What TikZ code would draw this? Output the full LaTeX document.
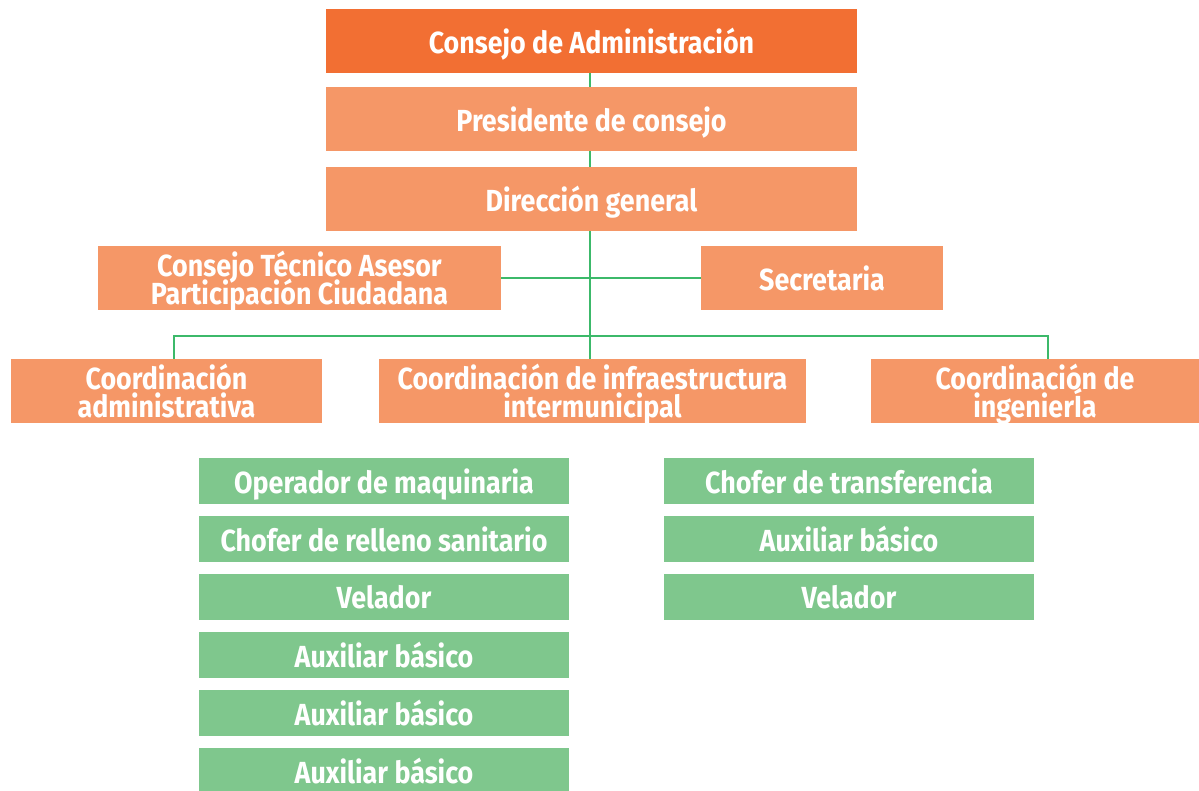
\documentclass[tikz,border=0pt]{standalone}
\usepackage{fontspec}
\setmainfont{Fira Sans}[FakeStretch=0.88]
\usetikzlibrary{backgrounds}
\definecolor{darkor}{HTML}{F26F33}
\definecolor{lightor}{HTML}{F59767}
\definecolor{boxgreen}{HTML}{7FC78D}
\definecolor{linegreen}{HTML}{3CB96A}
\newcommand{\orgboxfont}{\bfseries\fontsize{30.5}{28}\selectfont\lineskiplimit=-30pt\relax\lineskip=0pt\relax}
\tikzset{
  box/.style={fill=lightor, draw=none, text=white, inner sep=0pt, align=center,
    font=\orgboxfont, text depth=0pt, minimum height=64pt},
  topbox/.style={box, fill=darkor},
  gbox/.style={box, fill=boxgreen, minimum height=46pt, minimum width=370pt},
  conn/.style={draw=linegreen, line width=2.6pt}
}
\begin{document}
\begin{tikzpicture}[x=1pt,y=-1pt]
\useasboundingbox (0,0) rectangle (1199,791);
\node[topbox, minimum width=531pt] (top) at (591.5,41) {Consejo de Administración};
\node[box, minimum width=531pt] (pres) at (591.5,119) {Presidente de consejo};
\node[box, minimum width=531pt] (dir) at (591.5,199) {Dirección general};
\node[box, minimum width=403pt] (cta) at (299.5,278) {Consejo Técnico Asesor\\Participación Ciudadana};
\node[box, minimum width=242pt] (sec) at (822,278) {Secretaria};
\node[box, minimum width=311pt] (adm) at (166.5,391) {Coordinación\\administrativa};
\node[box, minimum width=427pt] (inf) at (592.5,391) {Coordinación de infraestructura\\intermunicipal};
\node[box, minimum width=328pt] (ing) at (1035,391) {Coordinación de\\ingenierÍa};
\coordinate (bus) at (590,336);
\begin{scope}[on background layer]
\draw[conn] (top.south -| bus) -- (inf.north -| bus);
\draw[conn] (cta.east) -- (sec.west);
\draw[conn] ([xshift=7.5pt]adm.north) |- (bus) -| ([xshift=13pt]ing.north);
\end{scope}
% green boxes
\node[gbox] (g1) at (384,481) {Operador de maquinaria};
\node[gbox] (g2) at (384,539) {Chofer de relleno sanitario};
\node[gbox] (g3) at (384,597) {Velador};
\node[gbox] (g4) at (384,655) {Auxiliar básico};
\node[gbox] (g5) at (384,713) {Auxiliar básico};
\node[gbox] (g6) at (384,771) {Auxiliar básico};
\node[gbox] (h1) at (849,481) {Chofer de transferencia};
\node[gbox] (h2) at (849,539) {Auxiliar básico};
\node[gbox] (h3) at (849,597) {Velador};
\end{tikzpicture}
\end{document}
